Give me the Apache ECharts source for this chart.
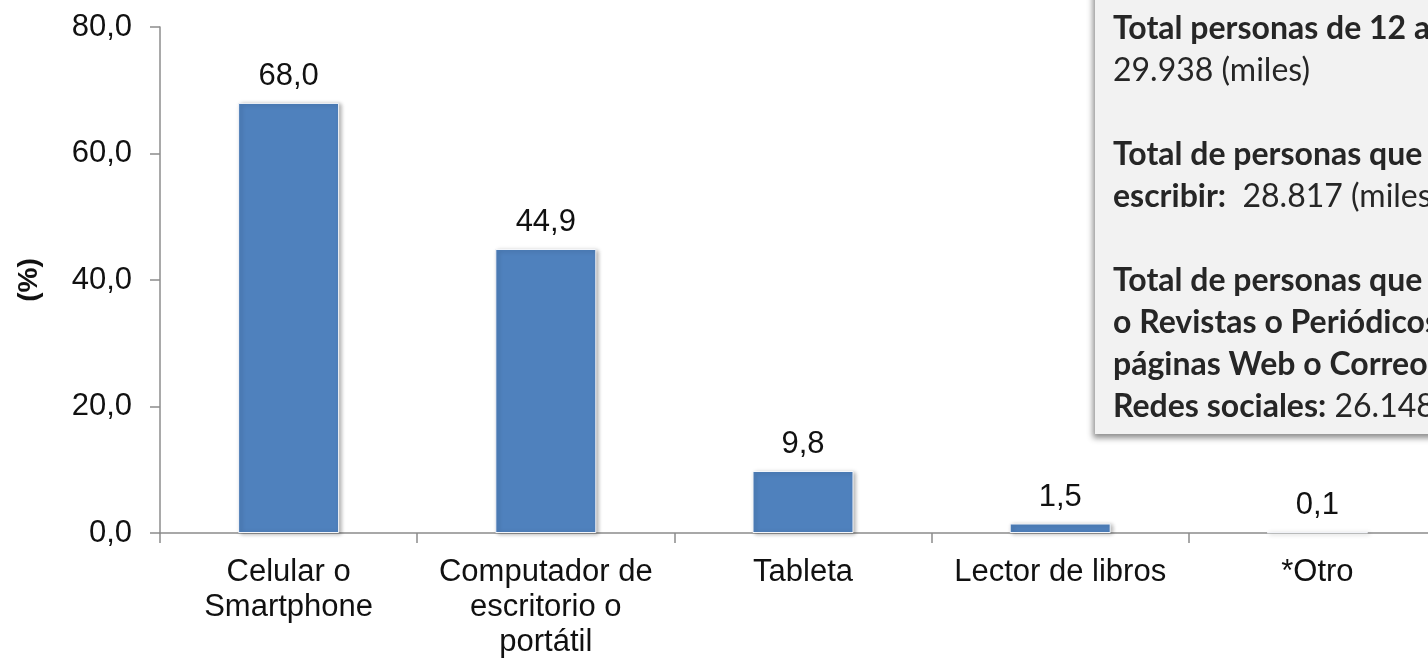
<!DOCTYPE html>
<html>
<head>
<meta charset="utf-8">
<script src="https://cdn.jsdelivr.net/npm/echarts@6/dist/echarts.min.js"></script>
<style>
  html, body { margin: 0; padding: 0; background: #fff; }
  #chart { width: 1428px; height: 659px; }
</style>
</head>
<body>
<div id="chart"></div>
<script>
// Dispositivos usados para leer (%)
const categories = ['Celular o\nSmartphone', 'Computador de\nescritorio o\nportátil', 'Tableta', 'Lector de libros', '*Otro']
const values = [68.0, 44.9, 9.8, 1.5, 0.1]
const yTicks = { min: 0, max: 80, interval: 20 }

const notaLineas = [
  '{b|Total personas de 12 años y más:}',
  '{n|29.938 (miles)}',
  '{n| }',
  '{b|Total de personas que saben leer y}',
  '{b|escribir:}{n|  28.817 (miles)}',
  '{n| }',
  '{b|Total de personas que leen Libros}',
  '{b|o Revistas o Periódicos o}',
  '{b|páginas Web o Correos o}',
  '{b|Redes sociales:}{n| 26.148 (miles)}'
]

const fmt = v => v.toFixed(1).replace('.', ',')
const fuente = '"Liberation Sans", Arial, sans-serif'

const chart = echarts.init(document.getElementById('chart'))
chart.setOption({
  animation: false,
  grid: { left: 160, right: -18, top: 27, bottom: 126, containLabel: false, outerBoundsMode: 'none' },
  xAxis: {
    type: 'category',
    data: categories,
    axisLine: { lineStyle: { color: '#8c8c8c', width: 1.5 } },
    axisTick: { show: true, length: 10, lineStyle: { color: '#8c8c8c', width: 1.5 } },
    axisLabel: {
      color: '#111',
      fontFamily: fuente,
      fontSize: 31,
      lineHeight: 35,
      margin: 22,
      interval: 0
    }
  },
  yAxis: {
    type: 'value',
    min: yTicks.min,
    max: yTicks.max,
    interval: yTicks.interval,
    name: '(%)',
    nameLocation: 'middle',
    nameRotate: 90,
    nameGap: 117,
    nameTextStyle: { color: '#111', fontFamily: fuente, fontSize: 28, fontWeight: 'bold' },
    axisLine: { show: true, lineStyle: { color: '#8c8c8c', width: 1.5 } },
    axisTick: { show: true, length: 10, lineStyle: { color: '#8c8c8c', width: 1.5 } },
    splitLine: { show: false },
    axisLabel: {
      color: '#111',
      fontFamily: fuente,
      fontSize: 31,
      margin: 28,
      formatter: fmt
    }
  },
  series: [{
    type: 'bar',
    data: values,
    barWidth: 101,
    itemStyle: {
      color: '#4f81bd',
      borderColor: '#f4f6fa',
      borderWidth: 1,
      shadowColor: 'rgba(0,0,0,0.3)',
      shadowBlur: 4,
      shadowOffsetX: 2,
      shadowOffsetY: 1
    },
    label: {
      show: true,
      position: 'top',
      distance: 11,
      color: '#111',
      fontFamily: fuente,
      fontSize: 31,
      formatter: p => fmt(p.value)
    }
  }],
  graphic: [{
    type: 'group',
    z: 100,
    children: [{
      type: 'rect',
      shape: { x: 1095, y: -20, width: 420, height: 454 },
      style: {
        fill: '#f2f2f2',
        shadowColor: 'rgba(0,0,0,0.45)',
        shadowBlur: 6,
        shadowOffsetX: -2,
        shadowOffsetY: 4
      }
    }, {
      type: 'text',
      x: 1113,
      y: 8,
      style: {
        text: notaLineas.join('\n'),
        rich: {
          b: { fontFamily: 'Lato', fontWeight: 'bold', fontSize: 32, lineHeight: 42, fill: '#262626' },
          n: { fontFamily: 'Lato', fontSize: 32, lineHeight: 42, fill: '#262626' }
        }
      }
    }]
  }]
})
</script>
</body>
</html>
